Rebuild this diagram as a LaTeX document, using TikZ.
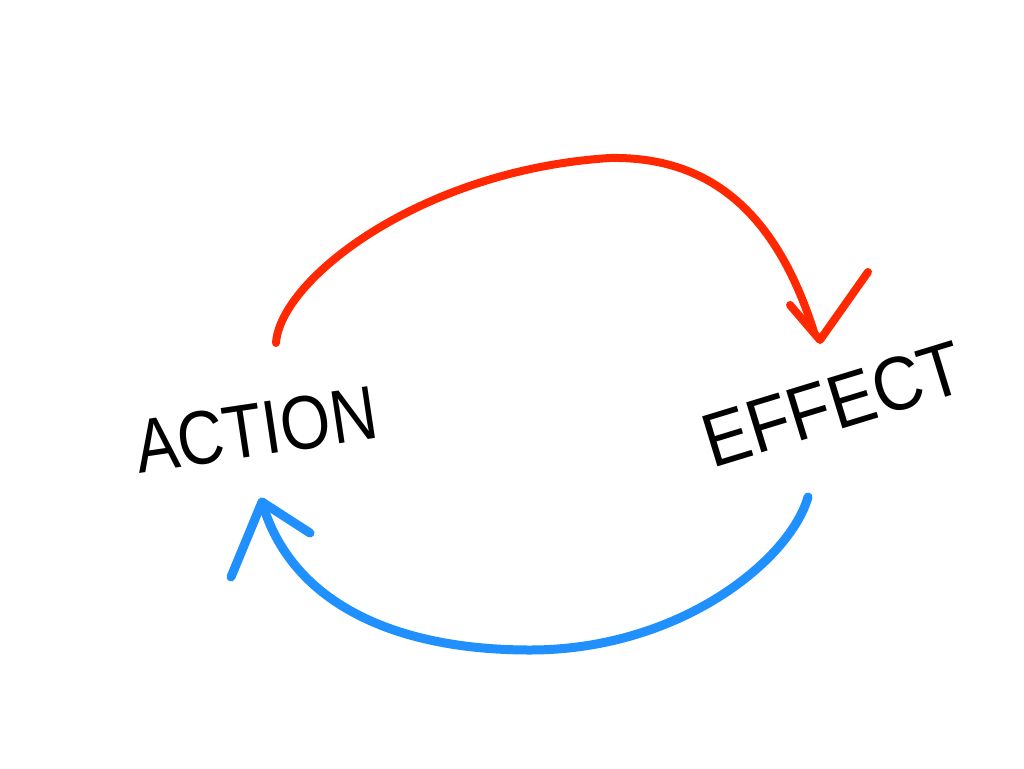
\documentclass[tikz,border=0pt]{standalone}
\usepackage{fontspec}
\setmainfont{Liberation Sans}
\definecolor{penred}{RGB}{255,40,0}
\definecolor{penblue}{RGB}{32,144,255}
\tikzset{
  handtext/.style={font=\fontsize{76}{76}\selectfont, text=black, inner sep=0pt},
  redline/.style={draw=penred, line width=8pt, line cap=round, line join=round},
  blueline/.style={draw=penblue, line width=9pt, line cap=round, line join=round}
}
\begin{document}
\begin{tikzpicture}[x=1pt,y=-1pt]
\useasboundingbox (0,0) rectangle (1024,768);
\fill[white] (0,0) rectangle (1024,768);
\node[handtext, rotate=8.5] (action) at (256,430) {\scalebox{0.85}[1]{ACTION}};
\node[handtext, rotate=17] (effect) at (833,404) {\scalebox{0.91}[1]{EFFECT}};
% red arrow
\coordinate (rs) at (276,343);
\coordinate (rpeak) at (610,158);
\coordinate (re) at (814,332);
\coordinate (rl) at (790,305);
\coordinate (rt) at (820,340);
\coordinate (rr) at (868,272);
\draw[redline] (rs) .. controls (280,280) and (420,170) .. (rpeak) .. controls (720,156) and (780,225) .. (re);
\draw[redline] (rl) -- (rt) -- (rr);
% blue arrow
\coordinate (bs) at (808,497);
\coordinate (bbot) at (530,650);
\coordinate (be) at (262,502);
\coordinate (bl) at (231,577);
\coordinate (br) at (310,533);
\draw[blueline] (bs) .. controls (790,560) and (680,650) .. (bbot) .. controls (390,650) and (290,600) .. (be);
\draw[blueline] (bl) -- (be) -- (br);
\end{tikzpicture}
\end{document}
